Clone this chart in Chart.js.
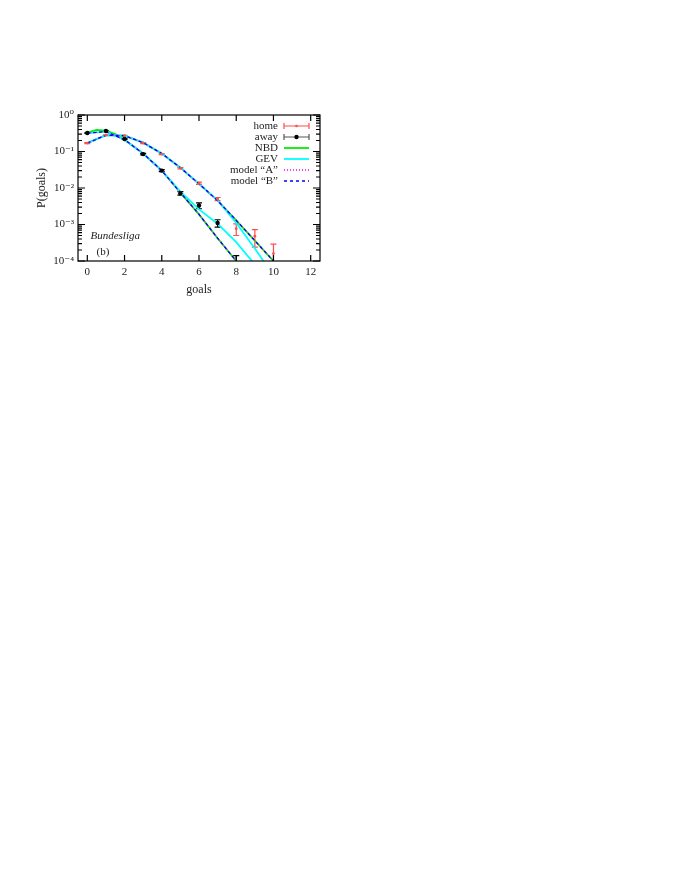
<!DOCTYPE html>
<html>
<head>
<meta charset="utf-8">
<script src="https://cdn.jsdelivr.net/npm/chart.js@4.4.1/dist/chart.umd.min.js"></script>
<style>
  body { margin: 0; background: #fff; }
  canvas { display: block; }
</style>
</head>
<body>
<canvas id="goalsChart" width="680" height="880"></canvas>
<script>
// measured points (Bundesliga)
const homeGoals = [0, 1, 2, 3, 4, 5, 6, 7, 8, 9, 10];
const homeP   = [0.17, 0.28, 0.27, 0.17, 0.085, 0.035, 0.0135, 0.005, 0.00077, 0.00048, 0.00016];
const homeErr = [0.006, 0.006, 0.006, 0.005, 0.003, 0.0015, 0.001, 0.0005, 0.00027, 0.00024, 0.00013];

const awayGoals = [0, 1, 2, 3, 4, 5, 6, 7, 8];
const awayP   = [0.32, 0.365, 0.22, 0.085, 0.030, 0.0072, 0.0033, 0.0011, 0.00007];
const awayErr = [0.006, 0.007, 0.006, 0.004, 0.002, 0.0008, 0.0006, 0.00025, 0.00007];

// fitted curves
const curveGoals = [0, 1, 2, 3, 4, 5, 6, 7, 8, 9, 10];
const homeModel = [0.17, 0.28, 0.27, 0.175, 0.088, 0.036, 0.013, 0.0045, 0.0013, 0.00036, 0.0001];
const homeGev   = [0.17, 0.28, 0.27, 0.175, 0.088, 0.036, 0.013, 0.0046, 0.0011, 0.00022, 0.00004];
const awayModel = [0.32, 0.35, 0.21, 0.088, 0.030, 0.0075, 0.0019, 0.00042, 0.0001, 0.00002, 0.000004];
const awayGev   = [0.32, 0.35, 0.21, 0.088, 0.030, 0.008, 0.0026, 0.00105, 0.00033, 0.00008, 0.00002];
const nbdAwayGoals = [0, 0.5, 1, 1.5, 2, 3, 4, 5, 6, 7, 8, 9];
const nbdAway = [0.33, 0.39, 0.37, 0.30, 0.21, 0.088, 0.030, 0.0075, 0.0019, 0.00042, 0.0001, 0.00002];

const xTicks = [0, 2, 4, 6, 8, 10, 12];
const yDecades = [-4, -3, -2, -1, 0];
const legendLabels = ['home', 'away', 'NBD', 'GEV', 'model \u201cA\u201d', 'model \u201cB\u201d'];

const SERIF = '"Liberation Serif", "DejaVu Serif", serif';
const sup = { '0': '\u2070', '1': '\u00b9', '2': '\u00b2', '3': '\u00b3', '4': '\u2074', '-': '\u207b' };

function pts(xs, ys) { return xs.map((x, i) => ({ x: x, y: ys[i] })); }

// lower order is drawn on top
function curve(label, xs, ys, color, dash, order, width) {
  return {
    label: label, data: pts(xs, ys), showLine: true, borderColor: color,
    borderWidth: width || 1.6, borderDash: dash || [], pointRadius: 0, fill: false, order: order
  };
}

const errorBars = {
  id: 'errorBars',
  beforeDatasetsDraw(chart) {
    const ctx = chart.ctx, xs = chart.scales.x, ys = chart.scales.y, a = chart.chartArea;
    ctx.save();
    ctx.beginPath();
    ctx.rect(a.left, a.top, a.right - a.left, a.bottom - a.top);
    ctx.clip();
    const draw = (gs, ps, es, color) => {
      ctx.strokeStyle = color;
      ctx.lineWidth = 1.2;
      gs.forEach((g, i) => {
        const px = xs.getPixelForValue(g);
        const lo = Math.max(ps[i] - es[i], 1e-6);
        const y1 = ys.getPixelForValue(ps[i] + es[i]);
        const y2 = ys.getPixelForValue(lo);
        ctx.beginPath();
        ctx.moveTo(px, y1); ctx.lineTo(px, y2);
        ctx.moveTo(px - 3, y1); ctx.lineTo(px + 3, y1);
        ctx.moveTo(px - 3, y2); ctx.lineTo(px + 3, y2);
        ctx.stroke();
      });
    };
    draw(homeGoals, homeP, homeErr, '#ff4d4d');
    draw(awayGoals, awayP, awayErr, '#000');
    ctx.restore();
  }
};

const frame = {
  id: 'frame',
  afterDraw(chart) {
    const ctx = chart.ctx, xs = chart.scales.x, ys = chart.scales.y, a = chart.chartArea;
    ctx.save();
    ctx.strokeStyle = '#000';
    ctx.lineWidth = 1.2;
    ctx.strokeRect(a.left, a.top, a.right - a.left, a.bottom - a.top);

    // inward ticks, mirrored
    ctx.beginPath();
    xTicks.forEach(t => {
      const px = xs.getPixelForValue(t);
      ctx.moveTo(px, a.bottom); ctx.lineTo(px, a.bottom - 6);
      ctx.moveTo(px, a.top); ctx.lineTo(px, a.top + 6);
    });
    yDecades.forEach(d => {
      for (let m = 1; m < 10; m++) {
        const v = m * Math.pow(10, d);
        if (v > 1) break;
        const py = ys.getPixelForValue(v);
        const len = m === 1 ? 7 : 4;
        ctx.moveTo(a.left, py); ctx.lineTo(a.left + len, py);
        ctx.moveTo(a.right, py); ctx.lineTo(a.right - len, py);
      }
    });
    ctx.stroke();

    // axis titles
    ctx.fillStyle = '#222';
    ctx.font = '12px ' + SERIF;
    ctx.textAlign = 'center';
    ctx.textBaseline = 'middle';
    ctx.fillText('goals', (a.left + a.right) / 2, a.bottom + 29);
    ctx.save();
    ctx.translate(a.left - 36, (a.top + a.bottom) / 2);
    ctx.rotate(-Math.PI / 2);
    ctx.fillText('P(goals)', 0, 0);
    ctx.restore();

    // label inside plot
    ctx.font = 'italic 11px ' + SERIF;
    ctx.textAlign = 'left';
    ctx.fillText('Bundesliga', xs.getPixelForValue(0.17), ys.getPixelForValue(0.00048));
    ctx.font = '11px ' + SERIF;
    ctx.fillText('(b)', xs.getPixelForValue(0.5), ys.getPixelForValue(0.00018));

    // legend
    const colors = ['#ff4d4d', '#555', '#00ee00', '#00ffff', '#ff00ff', '#0000ff'];
    const dashes = [[], [], [], [], [1, 2], [3, 3]];
    const tx = a.left + 200, x1 = a.left + 206, x2 = a.left + 231;
    legendLabels.forEach((lab, i) => {
      const y = a.top + 11 + i * 11;
      ctx.fillStyle = '#222';
      ctx.font = '11px ' + SERIF;
      ctx.textAlign = 'right';
      ctx.fillText(lab, tx, y);
      ctx.strokeStyle = colors[i];
      ctx.lineWidth = i < 2 ? 1.2 : (i < 4 ? 1.8 : 1.4);
      ctx.setLineDash(dashes[i]);
      ctx.beginPath();
      ctx.moveTo(x1, y); ctx.lineTo(x2, y);
      if (i < 2) {
        ctx.moveTo(x1, y - 3); ctx.lineTo(x1, y + 3);
        ctx.moveTo(x2, y - 3); ctx.lineTo(x2, y + 3);
      }
      ctx.stroke();
      ctx.setLineDash([]);
      if (i < 2) {
        ctx.fillStyle = i === 0 ? '#ff4d4d' : '#000';
        ctx.beginPath();
        ctx.arc((x1 + x2) / 2, y, i === 0 ? 1.3 : 2.2, 0, Math.PI * 2);
        ctx.fill();
      }
    });
    ctx.restore();
  }
};

new Chart(document.getElementById('goalsChart'), {
  type: 'scatter',
  data: {
    datasets: [
      { label: 'home', data: pts(homeGoals, homeP), pointRadius: 1.4, pointBackgroundColor: '#ff4d4d', pointBorderWidth: 0, showLine: false, order: 0 },
      { label: 'away', data: pts(awayGoals, awayP), pointRadius: 2.2, pointBackgroundColor: '#000', pointBorderWidth: 0, showLine: false, order: 0 },
      curve('NBD home', curveGoals, homeModel, '#00ee00', [], 4, 1.8),
      curve('NBD away', nbdAwayGoals, nbdAway, '#00ee00', [], 4, 1.8),
      curve('GEV home', curveGoals, homeGev, '#00ffff', [], 3, 1.8),
      curve('GEV away', curveGoals, awayGev, '#00ffff', [], 3, 1.8),
      curve('model A home', curveGoals, homeModel, '#ff00ff', [1, 2], 2, 1.4),
      curve('model A away', curveGoals, awayModel, '#ff00ff', [1, 2], 2, 1.4),
      curve('model B home', curveGoals, homeModel, '#0000ff', [3, 3], 1, 1.3),
      curve('model B away', curveGoals, awayModel, '#0000ff', [3, 3], 1, 1.3)
    ]
  },
  options: {
    responsive: false,
    animation: false,
    layout: { padding: { left: 0, top: 115, right: 360, bottom: 0 } },
    plugins: { legend: { display: false }, tooltip: { enabled: false } },
    scales: {
      x: {
        type: 'linear', min: -0.5, max: 12.5,
        afterBuildTicks: s => { s.ticks = xTicks.map(v => ({ value: v })); },
        afterFit: s => { s.height = 880 - 261; },
        grid: { display: false, drawTicks: false, tickLength: 0 },
        border: { display: false },
        ticks: { padding: 5, color: '#222', font: { family: SERIF, size: 11 } }
      },
      y: {
        type: 'logarithmic', min: 1e-4, max: 1,
        afterBuildTicks: s => { s.ticks = yDecades.map(d => ({ value: Math.pow(10, d) })); },
        afterFit: s => { s.width = 78; },
        grid: { display: false, drawTicks: false, tickLength: 0 },
        border: { display: false },
        ticks: {
          padding: 4, color: '#222', font: { family: SERIF, size: 11 },
          callback: v => '10' + String(Math.round(Math.log10(v))).split('').map(c => sup[c]).join('')
        }
      }
    }
  },
  plugins: [errorBars, frame]
});
</script>
</body>
</html>
